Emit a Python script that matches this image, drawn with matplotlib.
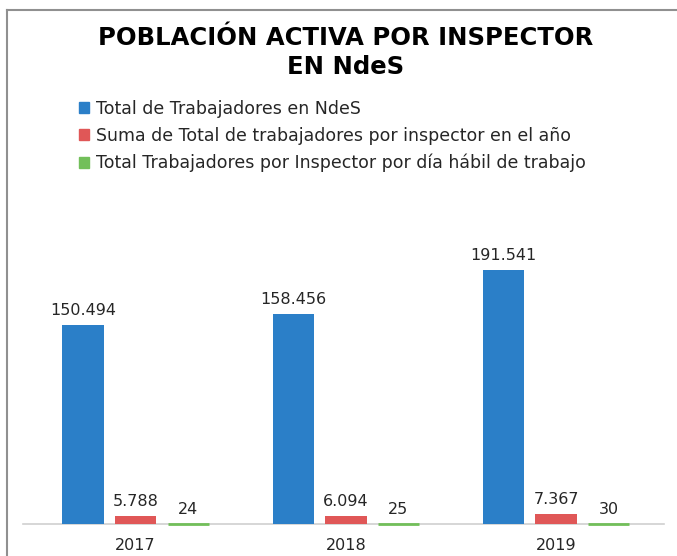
import numpy as np
import matplotlib
matplotlib.use("Agg")
from matplotlib import pyplot as plt
from matplotlib.patches import Patch
from matplotlib.lines import Line2D

# Data
years = ["2017", "2018", "2019"]
total_trabajadores = [150494, 158456, 191541]
por_inspector_anio = [5788, 6094, 7367]
por_inspector_dia = [24, 25, 30]
series_names = [
    "Total de Trabajadores en NdeS",
    "Suma de Total de trabajadores por inspector en el año",
    "Total Trabajadores por Inspector por día hábil de trabajo",
]
colors = ["#2b7fc8", "#e05757", "#72bf5a"]
edge_widths = [0, 0, 2.0]  # green bars are tiny, Excel still shows a thin line

def fmt(v):
    return f"{v:,}".replace(",", ".")

plt.rcParams['font.family'] = ['DejaVu Sans']

fig = plt.figure(figsize=(6.77, 5.56), dpi=100)
ax = fig.add_axes([0.034, 0.0576, 0.947, 0.529])

x = np.arange(len(years))
width = 0.197
offset = 0.25
all_series = [total_trabajadores, por_inspector_anio, por_inspector_dia]
for i, vals in enumerate(all_series):
    bars = ax.bar(x + (i - 1) * offset, vals, width, color=colors[i],
                  edgecolor=colors[i], linewidth=edge_widths[i], zorder=3,
                  clip_on=False)
    for b, v in zip(bars, vals):
        ax.annotate(fmt(v), (b.get_x() + b.get_width() / 2, b.get_height()),
                    xytext=(0, 5), textcoords="offset points",
                    ha="center", va="bottom", fontsize=11.5, color="#262626")

ax.set_xlim(-0.536, 2.514)
ax.set_ylim(0, 222000)
ax.set_xticks(x)
ax.set_xticklabels(years, fontsize=11.5, color="#262626")
ax.tick_params(axis="x", length=0, pad=10)
ax.set_yticks([])
for s in ["top", "right", "left"]:
    ax.spines[s].set_visible(False)
ax.spines["bottom"].set_color("#d0d0d0")
ax.spines["bottom"].set_linewidth(1.2)

fig.text(0.511, 0.905, "POBLACIÓN ACTIVA POR INSPECTOR\nEN NdeS", ha="center", va="center",
         fontsize=17.5, fontweight="bold", linespacing=1.25)

handles = [Patch(color=c) for c in colors]
fig.legend(handles, series_names, loc="upper left", bbox_to_anchor=(0.093, 0.849),
           frameon=False, fontsize=12.5, handlelength=0.6, handleheight=0.6,
           handletextpad=0.4, labelspacing=0.52, labelcolor="#262626")

# chart border (top and left)
fig.add_artist(Line2D([0.010, 0.010], [0, 0.982], color="#909090", lw=1.5))
fig.add_artist(Line2D([0.010, 1.0], [0.982, 0.982], color="#909090", lw=1.5))

fig.savefig("out.png", dpi=100, facecolor="white")
